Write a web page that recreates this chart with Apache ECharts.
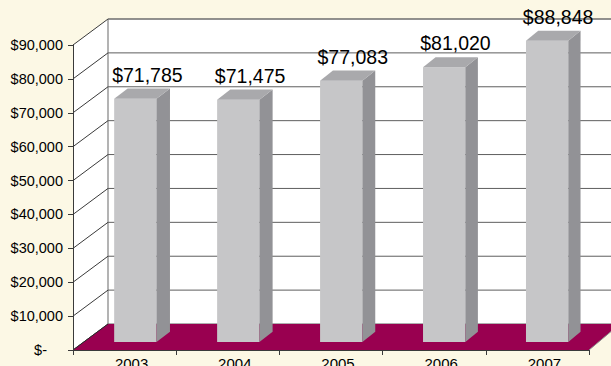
<!DOCTYPE html>
<html>
<head>
<meta charset="utf-8">
<script src="https://cdn.jsdelivr.net/npm/echarts@6/dist/echarts.min.js"></script>
<style>
  html, body { margin: 0; padding: 0; background: #FCF8E5; }
  #chart { width: 611px; height: 366px; }
</style>
</head>
<body>
<div id="chart"></div>
<script>
// Yearly figures
const years = ['2003', '2004', '2005', '2006', '2007'];
const amounts = [71785, 71475, 77083, 81020, 88848];
const amountLabels = ['$71,785', '$71,475', '$77,083', '$81,020', '$88,848'];

// Value axis ticks
const yTickValues = [0, 10000, 20000, 30000, 40000, 50000, 60000, 70000, 80000, 90000];
const yTickLabels = ['$-', '$10,000', '$20,000', '$30,000', '$40,000', '$50,000',
                     '$60,000', '$70,000', '$80,000', '$90,000'];

const FONT = '"Liberation Sans", Arial, Helvetica, sans-serif';

// Oblique depth of the 3-D box (pixels from front plane to back wall)
const DEPTH_X_LEFT = 35;
const DEPTH_X_RIGHT = 31;
const DEPTH_Y = 26;
// Bars stand between these depth fractions
const BAR_FRONT = 0.31;
const BAR_BACK = 0.70;
const BAR_WIDTH_RATIO = 0.41;

function depthAt(x, cs, t) {
  const f = (x - cs.x) / cs.width;
  return [t * (DEPTH_X_LEFT + (DEPTH_X_RIGHT - DEPTH_X_LEFT) * f), -t * DEPTH_Y];
}

const yMax = yTickValues[yTickValues.length - 1];

// Side wall and back wall
function renderWalls(params, api) {
  const cs = params.coordSys;
  const x0 = cs.x, x1 = cs.x + cs.width;
  const yTop = api.coord([0, yMax])[1];
  const yBot = api.coord([0, 0])[1];
  const bx0 = x0 + DEPTH_X_LEFT;
  const bx1 = x1 + DEPTH_X_RIGHT + 30;
  return {
    type: 'group',
    children: [
      { type: 'rect', shape: { x: bx0, y: yTop - DEPTH_Y, width: bx1 - bx0, height: yBot - yTop },
        style: { fill: '#ffffff' } },
      { type: 'polygon', shape: { points: [[x0, yTop], [bx0, yTop - DEPTH_Y], [bx0, yBot - DEPTH_Y], [x0, yBot]] },
        style: { fill: '#ffffff' } },
      { type: 'line', shape: { x1: bx0, y1: yTop - DEPTH_Y, x2: bx0, y2: yBot - DEPTH_Y },
        style: { stroke: '#9a9a9a', lineWidth: 1.5 } },
      { type: 'line', shape: { x1: bx0, y1: yTop - DEPTH_Y, x2: bx1, y2: yTop - DEPTH_Y },
        style: { stroke: '#8a8a8a', lineWidth: 1 } }
    ]
  };
}

// One gridline per value tick: diagonal on the side wall, horizontal on the back wall
function renderGridline(params, api) {
  const cs = params.coordSys;
  const x0 = cs.x, x1 = cs.x + cs.width;
  const y = api.coord([0, api.value(1)])[1];
  const bx0 = x0 + DEPTH_X_LEFT;
  return {
    type: 'group',
    children: [
      { type: 'line', shape: { x1: x0, y1: y, x2: bx0, y2: y - DEPTH_Y },
        style: { stroke: '#3a3a3a', lineWidth: 1 } },
      { type: 'line', shape: { x1: bx0, y1: y - DEPTH_Y, x2: x1 + DEPTH_X_RIGHT + 30, y2: y - DEPTH_Y },
        style: { stroke: '#5e5e5e', lineWidth: 1 } }
    ]
  };
}

// Floor
function renderFloor(params, api) {
  const cs = params.coordSys;
  const x0 = cs.x, x1 = cs.x + cs.width;
  const yBot = api.coord([0, 0])[1];
  const pts = [[x0, yBot], [x0 + DEPTH_X_LEFT, yBot - DEPTH_Y],
               [x1 + DEPTH_X_RIGHT, yBot - DEPTH_Y], [x1, yBot]];
  return {
    type: 'group',
    children: [
      { type: 'polygon', shape: { points: pts }, style: { fill: '#990050' } },
      { type: 'line', shape: { x1: pts[0][0], y1: pts[0][1], x2: pts[1][0], y2: pts[1][1] },
        style: { stroke: '#2a2a2a', lineWidth: 1 } },
      { type: 'line', shape: { x1: pts[3][0], y1: pts[3][1], x2: pts[2][0], y2: pts[2][1] },
        style: { stroke: '#8a8a8a', lineWidth: 1 } }
    ]
  };
}

// 3-D bars with value labels
function renderBar(params, api) {
  const cs = params.coordSys;
  const i = api.value(0);
  const base = api.coord([i, 0]);
  const top = api.coord([i, api.value(1)]);
  const bw = api.size([1, 0])[0] * BAR_WIDTH_RATIO;
  const s1 = depthAt(base[0], cs, BAR_FRONT);
  const s2 = depthAt(base[0], cs, BAR_BACK);
  const ddx = s2[0] - s1[0], ddy = s2[1] - s1[1];
  const cx = base[0] + s1[0];
  const L = cx - bw / 2, R = cx + bw / 2;
  const yB = base[1] + s1[1], yT = top[1] + s1[1];
  const lab = depthAt(base[0], cs, 0.66);
  return {
    type: 'group',
    children: [
      { type: 'rect', shape: { x: L, y: yT, width: bw, height: yB - yT },
        style: { fill: '#C6C6C8' } },
      { type: 'polygon', shape: { points: [[R, yT], [R + ddx, yT + ddy], [R + ddx, yB + ddy], [R, yB]] },
        style: { fill: '#929296' } },
      { type: 'polygon', shape: { points: [[L, yT], [L + ddx, yT + ddy], [R + ddx, yT + ddy], [R, yT]] },
        style: { fill: '#A9A9AC' } },
      { type: 'text',
        style: { text: amountLabels[params.dataIndex], x: base[0] + lab[0], y: yT + ddy - 4,
                 fill: '#000', fontSize: 19.5, fontFamily: FONT, align: 'center', verticalAlign: 'bottom' } }
    ]
  };
}

const chart = echarts.init(document.getElementById('chart'), null, { renderer: 'svg' });

chart.setOption({
  backgroundColor: '#FCF8E5',
  animation: false,
  grid: { left: 73, right: 22, top: 45, bottom: 16, containLabel: false, outerBoundsMode: 'none' },
  xAxis: {
    type: 'category',
    data: years,
    z: 10,
    axisLine: { lineStyle: { color: '#3a3a3a', width: 1 } },
    axisTick: { show: true, length: 5, lineStyle: { color: '#3a3a3a' } },
    axisLabel: { color: '#000', fontSize: 15, fontFamily: FONT, margin: 6, padding: [0, 0, 0, 14] },
    splitLine: { show: false }
  },
  yAxis: {
    type: 'value',
    min: 0,
    max: yMax,
    interval: 10000,
    z: 10,
    axisLine: { show: true, lineStyle: { color: '#3a3a3a', width: 1 } },
    axisTick: { show: true, length: 5, lineStyle: { color: '#3a3a3a' } },
    splitLine: { show: false },
    axisLabel: {
      color: '#000', fontSize: 14.5, fontFamily: FONT, margin: 10,
      formatter: function (v) {
        const idx = yTickValues.indexOf(v);
        if (idx === 0) return '{dash|' + yTickLabels[0] + '}';
        return idx >= 0 ? yTickLabels[idx] : '';
      },
      rich: {
        dash: { color: '#000', fontSize: 14.5, fontFamily: FONT, padding: [0, 16, 0, 0] }
      }
    }
  },
  series: [
    { type: 'custom', z: 1, silent: true, renderItem: renderWalls, data: [[0, yMax]] },
    { type: 'custom', z: 2, silent: true, renderItem: renderGridline,
      data: yTickValues.map(function (v) { return [0, v]; }) },
    { type: 'custom', z: 3, silent: true, renderItem: renderFloor, data: [[0, 0]] },
    { type: 'custom', z: 4, silent: true, renderItem: renderBar,
      data: amounts.map(function (v, i) { return [i, v]; }) }
  ]
});
</script>
</body>
</html>
